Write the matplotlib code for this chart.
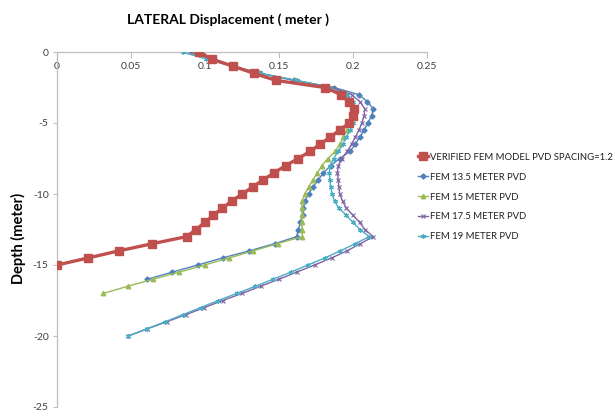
import matplotlib
matplotlib.use("Agg")
import matplotlib.pyplot as plt

# Depth levels (m) and lateral displacements (m)
depth_verified = [0, -0.5, -1, -1.5, -2, -2.5, -3, -3.5, -4, -4.5, -5, -5.5, -6, -6.5, -7,
                  -7.5, -8, -8.5, -9, -9.5, -10, -10.5, -11, -11.5, -12, -12.5, -13,
                  -13.5, -14, -14.5, -15]
disp_verified = [0.096, 0.1045, 0.119, 0.133, 0.148, 0.181, 0.192, 0.197, 0.2005, 0.200,
                 0.1975, 0.191, 0.1845, 0.1777, 0.171, 0.163, 0.1545, 0.1468, 0.1394,
                 0.1322, 0.1252, 0.118, 0.1117, 0.1056, 0.100, 0.0939, 0.0876,
                 0.0644, 0.042, 0.0212, 0.0]

depth_upper = [0, -0.5, -1, -1.5, -2, -2.5, -3, -3.5, -4, -4.5, -5, -5.5, -6, -6.5, -7,
               -7.5, -8, -8.5, -9, -9.5, -10, -10.5, -11, -11.5, -12, -12.5, -13]

depth_135 = depth_upper + [-13.5, -14, -14.5, -15, -15.5, -16]
disp_135 = [0.095, 0.106, 0.119, 0.137, 0.160, 0.187, 0.204, 0.2097, 0.2137, 0.2125,
            0.210, 0.2075, 0.2045, 0.2015, 0.198, 0.191, 0.185, 0.180, 0.1766, 0.173,
            0.170, 0.1675, 0.1665, 0.166, 0.1645, 0.163, 0.162,
            0.147, 0.130, 0.112, 0.095, 0.078, 0.061]

depth_15 = depth_upper + [-13.5, -14, -14.5, -15, -15.5, -16, -16.5, -17]
disp_15 = [0.0917, 0.105, 0.119, 0.137, 0.161, 0.186, 0.196, 0.199, 0.1995, 0.199,
           0.1975, 0.196, 0.1935, 0.191, 0.188, 0.183, 0.179, 0.176, 0.173, 0.170,
           0.1675, 0.1655, 0.1655, 0.1655, 0.1655, 0.1655, 0.1658,
           0.149, 0.1327, 0.1164, 0.0998, 0.0827, 0.065, 0.0477, 0.0313]

depth_lower_20 = [-13.5, -14, -14.5, -15, -15.5, -16, -16.5, -17, -17.5, -18, -18.5,
                  -19, -19.5, -20]

depth_175 = depth_upper + depth_lower_20
disp_175 = [0.090, 0.104, 0.119, 0.137, 0.161, 0.186, 0.199, 0.2047, 0.208, 0.2075,
            0.206, 0.204, 0.2015, 0.199, 0.196, 0.1925, 0.190, 0.1895, 0.190, 0.1905,
            0.191, 0.193, 0.1955, 0.200, 0.2045, 0.208, 0.2137,
            0.205, 0.196, 0.1855, 0.174, 0.162, 0.150, 0.1375, 0.125, 0.112, 0.0995,
            0.087, 0.074, 0.061, 0.048]

depth_19 = depth_upper + depth_lower_20
disp_19 = [0.085, 0.101, 0.118, 0.137, 0.162, 0.184, 0.196, 0.200, 0.202, 0.2015,
           0.200, 0.198, 0.1955, 0.193, 0.190, 0.187, 0.1845, 0.184, 0.1845, 0.1848,
           0.186, 0.1875, 0.1905, 0.1955, 0.200, 0.2047, 0.211,
           0.2015, 0.1915, 0.181, 0.1695, 0.158, 0.146, 0.134, 0.1215, 0.109, 0.097,
           0.085, 0.073, 0.0605, 0.0482]

series_labels = ["VERIFIED FEM MODEL PVD SPACING=1.2", "FEM 13.5 METER PVD",
                 "FEM 15 METER PVD", "FEM 17.5 METER PVD", "FEM 19 METER PVD"]

x_ticks = [0, 0.05, 0.1, 0.15, 0.2, 0.25]
x_tick_labels = ["0", "0.05", "0.1", "0.15", "0.2", "0.25"]
y_ticks = [0, -5, -10, -15, -20, -25]
y_tick_labels = ["0", "-5", "-10", "-15", "-20", "-25"]

plt.rcParams['font.family'] = ['Lato', 'DejaVu Sans']

fig = plt.figure(figsize=(6.15, 4.17), dpi=100)
ax = fig.add_axes([57 / 615, 1 - 407 / 417, 370 / 615, 355 / 417])

ax.plot(disp_135, depth_135, color="#4F81BD", lw=1.0, marker="D", ms=2.6,
        label=series_labels[1], zorder=3)
ax.plot(disp_15, depth_15, color="#9BBB59", lw=1.0, marker="^", ms=3.2,
        label=series_labels[2], zorder=3)
ax.plot(disp_175, depth_175, color="#8064A2", lw=1.0, marker="x", ms=3.2, mew=0.8,
        label=series_labels[3], zorder=3)
ax.plot(disp_19, depth_19, color="#4BACC6", lw=1.0, marker=(6, 2, 0), ms=3.6, mew=0.8,
        label=series_labels[4], zorder=3)
ax.plot(disp_verified, depth_verified, color="#C0504D", lw=2.4, marker="s", ms=5.5,
        label=series_labels[0], zorder=4)

ax.set_xlim(0, 0.25)
ax.set_ylim(-25, 0)

grey = "#BFBFBF"
for side in ("right", "bottom"):
    ax.spines[side].set_visible(False)
for side in ("top", "left"):
    ax.spines[side].set_color(grey)
    ax.spines[side].set_linewidth(0.9)

ax.set_xticks(x_ticks)
ax.set_xticklabels(x_tick_labels)
ax.xaxis.set_ticks_position("top")
ax.tick_params(axis="x", direction="in", length=4, width=0.8, color=grey,
               pad=-14, labelsize=7.5, labelcolor="#404040")
ax.set_yticks(y_ticks)
ax.set_yticklabels(y_tick_labels)
ax.tick_params(axis="y", direction="out", length=3, width=0.8, color=grey,
               pad=3, labelsize=7.5, labelcolor="#404040")

fig.text(228 / 615, 1 - 20 / 417, "LATERAL Displacement ( meter )", ha="center",
         va="center", fontsize=10, fontweight="bold", color="black")
fig.text(18 / 615, 1 - 238 / 417, "Depth (meter)", ha="center", va="center",
         rotation=90, fontsize=10.5, fontweight="bold", color="black")

handles, labels = ax.get_legend_handles_labels()
order = [4, 0, 1, 2, 3]
leg = fig.legend([handles[i] for i in order], [labels[i] for i in order],
                 loc="upper left", bbox_to_anchor=(414 / 615, 1 - 149 / 417),
                 frameon=False, fontsize=6.8, handlelength=1.1, handletextpad=0.15,
                 labelspacing=1.15, borderaxespad=0, labelcolor="#202020")

fig.savefig("out.png", dpi=100)
